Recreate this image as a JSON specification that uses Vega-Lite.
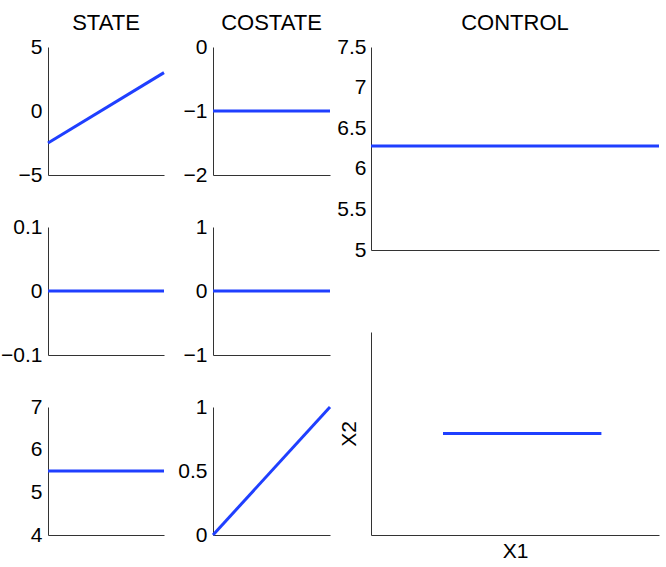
{
  "$schema": "https://vega.github.io/schema/vega-lite/v6.json",
  "padding": {"left": 0, "top": 12, "right": 0, "bottom": 0},
  "background": "white",
  "config": {
    "font": "Liberation Sans",
    "view": {"stroke": null},
    "axis": {"grid": false, "ticks": false, "domainColor": "#333333", "domainWidth": 1, "labelFont": "Liberation Sans", "labelFontSize": 21, "labelColor": "#000000", "titleFont": "Liberation Sans", "titleFontWeight": "normal", "titleFontSize": 21, "titleColor": "#000000", "labelPadding": 6, "format": "~g"},
    "title": {"font": "Liberation Sans", "fontSize": 22, "fontWeight": "normal", "color": "#000000", "anchor": "middle", "frame": "group", "baseline": "alphabetic", "offset": 1},
    "line": {"color": "#1f3fff", "strokeWidth": 3}
  },
  "data": {"values": [
    {"panel": "s1", "t": 0, "v": -2.5}, {"panel": "s1", "t": 1, "v": 3},
    {"panel": "c1", "t": 0, "v": -1}, {"panel": "c1", "t": 1, "v": -1},
    {"panel": "s2", "t": 0, "v": 0}, {"panel": "s2", "t": 1, "v": 0},
    {"panel": "c2", "t": 0, "v": 0}, {"panel": "c2", "t": 1, "v": 0},
    {"panel": "s3", "t": 0, "v": 5.5}, {"panel": "s3", "t": 1, "v": 5.5},
    {"panel": "c3", "t": 0, "v": 0}, {"panel": "c3", "t": 1, "v": 1},
    {"panel": "u", "t": 0, "v": 6.28}, {"panel": "u", "t": 1, "v": 6.28},
    {"panel": "ph", "t": -2.5, "v": 0}, {"panel": "ph", "t": 3, "v": 0}
  ]},
  "spacing": 0,
  "hconcat": [
    {
      "spacing": 31,
      "vconcat": [
        {"title": "STATE", "width": 116, "height": 128, "transform": [{"filter": "datum.panel === 's1'"}], "mark": "line",
         "encoding": {"x": {"field": "t", "type": "quantitative", "scale": {"domain": [0, 1]}, "axis": {"labels": false, "title": null}},
                      "y": {"field": "v", "type": "quantitative", "scale": {"domain": [-5, 5]}, "axis": {"values": [-5, 0, 5], "title": null, "minExtent": 43, "maxExtent": 43}}}},
        {"width": 116, "height": 128, "transform": [{"filter": "datum.panel === 's2'"}], "mark": "line",
         "encoding": {"x": {"field": "t", "type": "quantitative", "scale": {"domain": [0, 1]}, "axis": {"labels": false, "title": null}},
                      "y": {"field": "v", "type": "quantitative", "scale": {"domain": [-0.1, 0.1]}, "axis": {"values": [-0.1, 0, 0.1], "title": null, "minExtent": 43, "maxExtent": 43}}}},
        {"width": 116, "height": 128, "transform": [{"filter": "datum.panel === 's3'"}], "mark": "line",
         "encoding": {"x": {"field": "t", "type": "quantitative", "scale": {"domain": [0, 1]}, "axis": {"labels": false, "title": null}},
                      "y": {"field": "v", "type": "quantitative", "scale": {"domain": [4, 7]}, "axis": {"values": [4, 5, 6, 7], "title": null, "minExtent": 43, "maxExtent": 43}}}}
      ]
    },
    {
      "spacing": 31,
      "vconcat": [
        {"title": "COSTATE", "width": 117, "height": 128, "transform": [{"filter": "datum.panel === 'c1'"}], "mark": "line",
         "encoding": {"x": {"field": "t", "type": "quantitative", "scale": {"domain": [0, 1]}, "axis": {"labels": false, "title": null}},
                      "y": {"field": "v", "type": "quantitative", "scale": {"domain": [-2, 0]}, "axis": {"values": [-2, -1, 0], "title": null, "minExtent": 43, "maxExtent": 43}}}},
        {"width": 117, "height": 128, "transform": [{"filter": "datum.panel === 'c2'"}], "mark": "line",
         "encoding": {"x": {"field": "t", "type": "quantitative", "scale": {"domain": [0, 1]}, "axis": {"labels": false, "title": null}},
                      "y": {"field": "v", "type": "quantitative", "scale": {"domain": [-1, 1]}, "axis": {"values": [-1, 0, 1], "title": null, "minExtent": 43, "maxExtent": 43}}}},
        {"width": 117, "height": 128, "transform": [{"filter": "datum.panel === 'c3'"}], "mark": "line",
         "encoding": {"x": {"field": "t", "type": "quantitative", "scale": {"domain": [0, 1]}, "axis": {"labels": false, "title": null}},
                      "y": {"field": "v", "type": "quantitative", "scale": {"domain": [0, 1]}, "axis": {"values": [0, 0.5, 1], "title": null, "minExtent": 43, "maxExtent": 43}}}}
      ]
    },
    {
      "spacing": 72,
      "vconcat": [
        {"title": "CONTROL", "width": 288, "height": 203, "transform": [{"filter": "datum.panel === 'u'"}], "mark": "line",
         "encoding": {"x": {"field": "t", "type": "quantitative", "scale": {"domain": [0, 1]}, "axis": {"labels": false, "title": null}},
                      "y": {"field": "v", "type": "quantitative", "scale": {"domain": [5, 7.5]}, "axis": {"values": [5, 5.5, 6, 6.5, 7, 7.5], "title": null, "labelPadding": 5, "minExtent": 27, "maxExtent": 27}}}},
        {"width": 288, "height": 203, "transform": [{"filter": "datum.panel === 'ph'"}], "mark": "line",
         "encoding": {"x": {"field": "t", "type": "quantitative", "scale": {"domain": [-5, 5]}, "axis": {"labels": false, "title": "X1", "titlePadding": 5}},
                      "y": {"field": "v", "type": "quantitative", "scale": {"domain": [-1, 1]}, "axis": {"labels": false, "title": "X2", "titlePadding": 8, "minExtent": 4, "maxExtent": 4}}}}
      ]
    }
  ]
}
